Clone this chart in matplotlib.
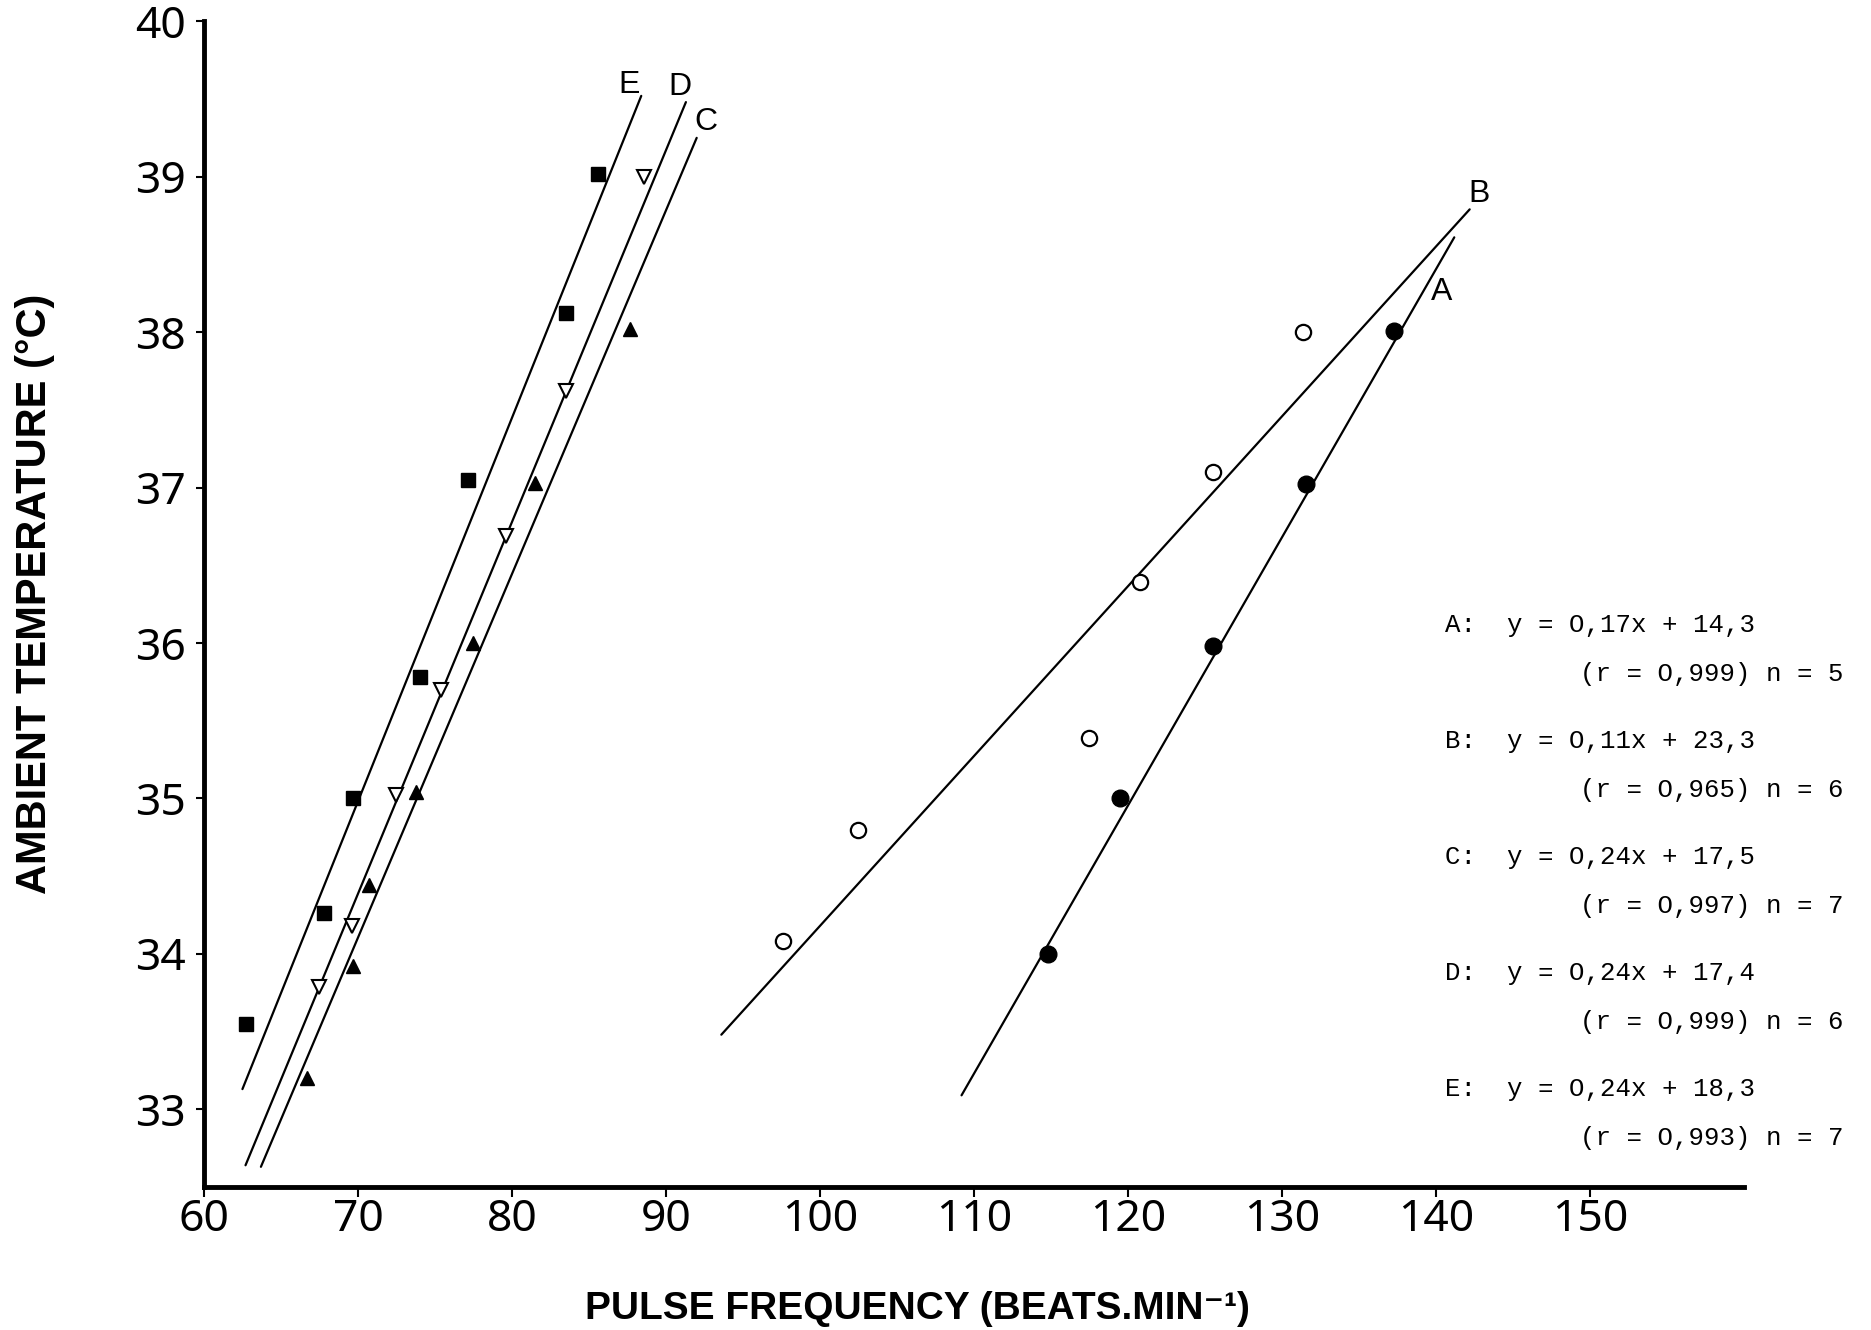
import matplotlib
matplotlib.use('Agg')
import matplotlib.pyplot as plt

# data
# A: filled circles
a_x = [114.8, 119.5, 125.5, 131.6, 137.3]
a_y = [34.0, 35.0, 35.98, 37.02, 38.01]
# B: open circles
b_x = [97.6, 102.5, 117.5, 120.8, 125.5, 131.4]
b_y = [34.08, 34.8, 35.39, 36.39, 37.1, 38.0]
# C: filled triangles
c_x = [66.7, 69.65, 70.7, 73.8, 77.5, 81.5, 87.7]
c_y = [33.2, 33.92, 34.44, 35.04, 36.0, 37.03, 38.02]
# D: open down triangles
d_x = [67.5, 69.6, 72.5, 75.4, 79.6, 83.5, 88.6]
d_y = [33.79, 34.18, 35.02, 35.70, 36.69, 37.62, 39.0]
# E: filled squares
e_x = [62.7, 67.8, 69.65, 74.0, 77.15, 83.5, 85.6]
e_y = [33.55, 34.26, 35.0, 35.78, 37.05, 38.12, 39.02]

# regression line end points
line_a = ([109.2, 141.2], [33.09, 38.61])
line_b = ([93.6, 142.2], [33.48, 38.79])
line_c = ([63.7, 92.0], [32.63, 39.25])
line_d = ([62.7, 91.3], [32.64, 39.48])
line_e = ([62.5, 88.4], [33.13, 39.52])

equations = [
    ('A:  y = O,17x + 14,3', '(r = O,999) n = 5'),
    ('B:  y = O,11x + 23,3', '(r = O,965) n = 6'),
    ('C:  y = O,24x + 17,5', '(r = O,997) n = 7'),
    ('D:  y = O,24x + 17,4', '(r = O,999) n = 6'),
    ('E:  y = O,24x + 18,3', '(r = O,993) n = 7'),
]

x_ticks = [60, 70, 80, 90, 100, 110, 120, 130, 140, 150]
y_ticks = [33, 34, 35, 36, 37, 38, 39, 40]

label_font = ['Liberation Sans', 'DejaVu Sans']
mono_font = ['Liberation Mono', 'DejaVu Sans Mono']

fig = plt.figure(figsize=(18.71, 13.30), dpi=100)
ax = fig.add_axes([0.109, 0.1075, 0.823, 0.8765])

for lx, ly in [line_a, line_b, line_c, line_d, line_e]:
    ax.plot(lx, ly, color='black', lw=1.6, solid_capstyle='round')

ax.plot(a_x, a_y, 'o', ms=12, color='black')
ax.plot(b_x, b_y, 'o', ms=11, mfc='white', mec='black', mew=1.6)
ax.plot(c_x, c_y, '^', ms=10.5, color='black')
ax.plot(d_x, d_y, 'v', ms=10.5, mfc='white', mec='black', mew=1.5)
ax.plot(e_x, e_y, 's', ms=10.5, color='black')

# curve letters
for txt, x, y in [('E', 87.6, 39.59), ('D', 90.9, 39.58), ('C', 92.6, 39.35),
                  ('B', 142.8, 38.89), ('A', 140.4, 38.26)]:
    ax.text(x, y, txt, ha='center', va='center', fontsize=23, family=label_font)

# equation block
y0 = 36.115
for i, (l1, l2) in enumerate(equations):
    yy = y0 - i * 0.746
    ax.text(140.6, yy, l1, ha='left', va='center', fontsize=18.5, family=mono_font)
    ax.text(166.5, yy - 0.315, l2, ha='right', va='center', fontsize=18.5, family=mono_font)

ax.set_xlim(60, 160)
ax.set_ylim(32.5, 40)
ax.set_xticks(x_ticks)
ax.set_yticks(y_ticks)
ax.set_xticklabels([str(t) for t in x_ticks])
ax.set_yticklabels([str(t) for t in y_ticks])
for lab in ax.get_xticklabels() + ax.get_yticklabels():
    lab.set_family(['Noto Sans', 'DejaVu Sans'])
    lab.set_stretch('condensed')
    lab.set_weight('light')
    lab.set_fontsize(32)
ax.tick_params(axis='x', length=7, width=1.5, pad=1)
ax.tick_params(axis='y', length=6, width=1.5, pad=7)

ax.spines['top'].set_visible(False)
ax.spines['right'].set_visible(False)
ax.spines['left'].set_linewidth(3.5)
ax.spines['bottom'].set_linewidth(3.5)

ax.set_xlabel('PULSE FREQUENCY (BEATS.MIN\u207b\u00b9)', fontsize=28,
              fontweight='bold', family=label_font)
ax.xaxis.set_label_coords(0.4636, -0.105)
ax.xaxis.label.set_va('center')
ax.set_ylabel('AMBIENT TEMPERATURE (\u00b0C)', fontsize=30,
              fontweight='bold', family=label_font)
ax.yaxis.set_label_coords(-0.11, 0.509)
ax.yaxis.label.set_va('center')

fig.savefig('out.png', dpi=100)
